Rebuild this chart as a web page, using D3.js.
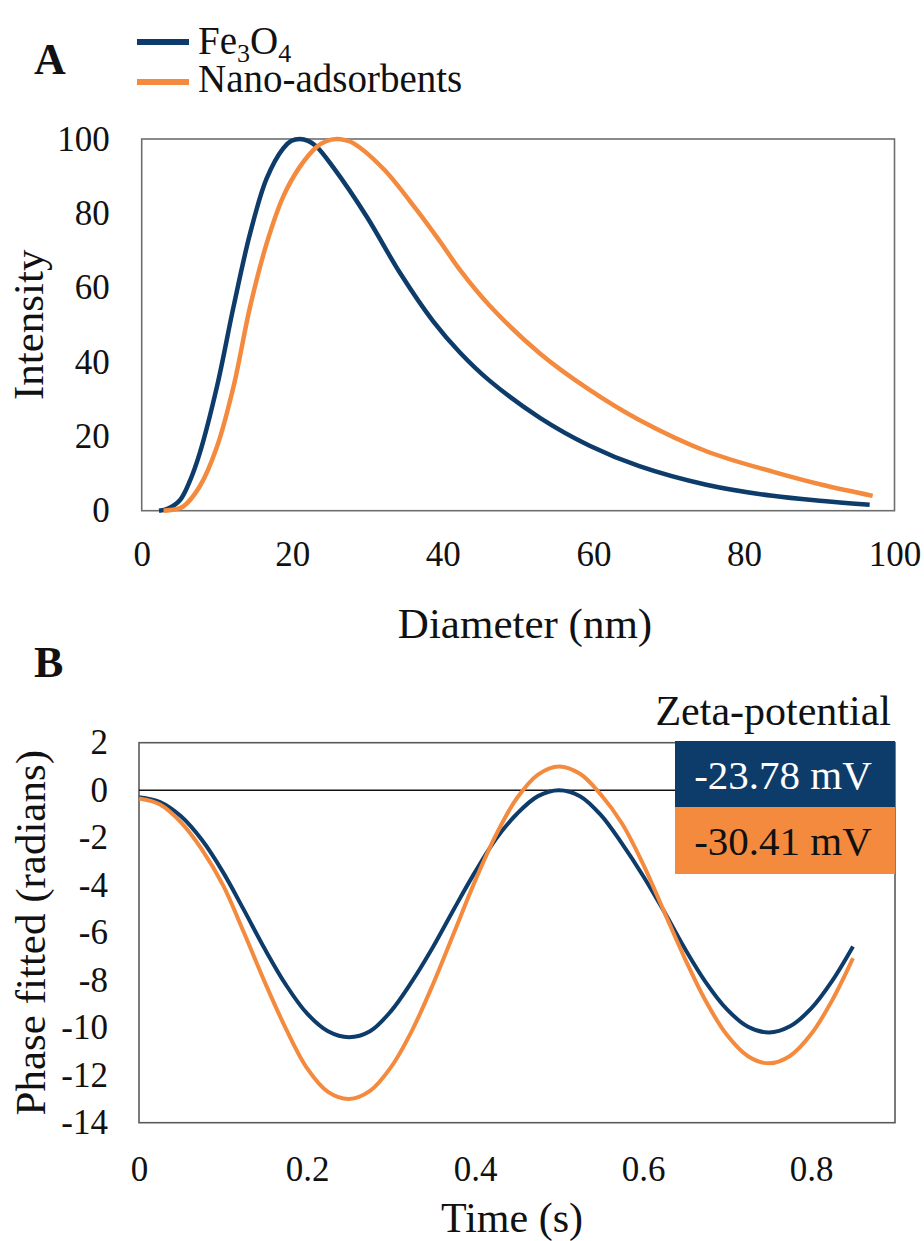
<!DOCTYPE html>
<html>
<head>
<meta charset="utf-8">
<script src="https://cdn.jsdelivr.net/npm/d3@7"></script>
<style>
  html, body { margin: 0; padding: 0; background: #fff; }
</style>
</head>
<body>
<svg id="chart" width="924" height="1241"></svg>
<script>
// ---------- Data ----------
// Panel A: particle size distribution
const seriesNames = ["Fe3O4", "Nano-adsorbents"];
const feDiameter = [2.3, 3.5, 5.1, 6.5, 7.7, 10.0, 12.2, 14.4, 16.6, 18.8, 19.9, 21.0, 22.1, 23.2, 25.4, 29.9, 34.3, 38.7, 42.3, 46.2, 52.9, 59.5, 66.1, 75.0, 83.8, 90.5, 96.7];
const feIntensity = [0, 0.6, 2.9, 8.5, 15.4, 33.4, 54.9, 74.6, 89.4, 97.5, 99.5, 100, 99.5, 98, 92.5, 79.1, 64, 51, 42.5, 35, 25, 17.5, 12, 7, 4, 2.6, 1.6];
const nanoDiameter = [2.9, 4.5, 5.5, 7.7, 10.0, 12.2, 14.4, 16.6, 18.8, 21.0, 23.2, 24.5, 25.9, 27.0, 28.1, 32.1, 36.5, 39.6, 42.3, 46.2, 52.9, 59.5, 66.1, 75.0, 83.8, 90.5, 97.1];
const nanoIntensity = [0, 0.4, 1.1, 6.5, 17.2, 33.4, 54.9, 71.9, 84.5, 92.5, 97.8, 99.4, 100, 99.7, 98.9, 92, 81, 72.5, 64.7, 55.2, 42.3, 32.5, 24.4, 16.0, 10.5, 6.9, 4.0];
const xTicksA = [0, 20, 40, 60, 80, 100];
const yTicksA = [0, 20, 40, 60, 80, 100];

// Panel B: phase fitted vs time
const timeB = [0, 0.025, 0.05, 0.075, 0.1, 0.125, 0.15, 0.175, 0.2, 0.225, 0.25, 0.275, 0.3, 0.325, 0.35, 0.375, 0.4, 0.425, 0.45, 0.475, 0.5, 0.525, 0.55, 0.575, 0.6, 0.625, 0.65, 0.675, 0.7, 0.725, 0.75, 0.775, 0.8, 0.825, 0.85];
const fePhase = [-0.3, -0.5, -1.1, -2.1, -3.45, -5.05, -6.7, -8.2, -9.4, -10.15, -10.4, -10.15, -9.3, -8.05, -6.6, -5.0, -3.45, -2.05, -0.99, -0.25, 0, -0.25, -1.05, -2.25, -3.6, -5.1, -6.68, -8.1, -9.23, -9.96, -10.2, -9.94, -9.2, -8.04, -6.58];
const nanoPhase = [-0.35, -0.6, -1.35, -2.5, -4.0, -6.0, -8.1, -10.05, -11.7, -12.7, -13.0, -12.66, -11.66, -10.12, -8.17, -6.0, -3.83, -1.88, -0.33, 0.66, 1.0, 0.69, -0.19, -1.4, -3.1, -5.1, -7.1, -8.9, -10.31, -11.2, -11.5, -11.19, -10.28, -8.86, -7.07];
const xTicksB = [0, 0.2, 0.4, 0.6, 0.8];
const yTicksB = [2, 0, -2, -4, -6, -8, -10, -12, -14];
const zetaLabels = ["-23.78 mV", "-30.41 mV"];

const BLUE = "#0d3c6b";
const ORANGE = "#f48a3d";
const FONT = "Liberation Serif";

const svg = d3.select("#chart");
function txt(sel, size, weight) {
  return sel.attr("font-family", FONT).style("font-family", FONT).style("font-size", size + "px")
    .style("font-weight", weight || "normal").style("fill", "#111");
}

// ---------- Panel A ----------
const xA = d3.scaleLinear().domain([0, 100]).range([141.7, 894.5]);
const yA = d3.scaleLinear().domain([0, 100]).range([510.7, 139]);

txt(svg.append("text").text("A").attr("x", 34).attr("y", 74), 44, "bold");

// legend
const legY = [42, 82];
const legBase = [54, 92];
[BLUE, ORANGE].forEach((c, i) => {
  svg.append("line").attr("x1", 137).attr("x2", 189).attr("y1", legY[i]).attr("y2", legY[i])
    .attr("stroke", c).attr("stroke-width", 6);
});
const fe = txt(svg.append("text").attr("x", 198).attr("y", legBase[0]), 39);
fe.append("tspan").text("Fe");
fe.append("tspan").text("3").style("font-size", "26px").attr("dy", 8);
fe.append("tspan").text("O").attr("dy", -8);
fe.append("tspan").text("4").style("font-size", "26px").attr("dy", 8);
txt(svg.append("text").attr("x", 198).attr("y", legBase[1]).text(seriesNames[1]), 39);

const gA = svg.append("g");
gA.append("rect").attr("x", xA(0)).attr("y", yA(100))
  .attr("width", xA(100) - xA(0)).attr("height", yA(0) - yA(100))
  .attr("fill", "none").attr("stroke", "#6e6e6e").attr("stroke-width", 1.6);

const axA = gA.append("g").attr("transform", `translate(0,${yA(0)})`)
  .call(d3.axisBottom(xA).tickValues(xTicksA).tickSize(0).tickPadding(30));
axA.attr("font-family", FONT);
axA.select(".domain").remove();
txt(axA.selectAll("text"), 35);

const ayA = gA.append("g").attr("transform", `translate(${xA(0)},0)`)
  .call(d3.axisLeft(yA).tickValues(yTicksA).tickSize(0).tickPadding(32));
ayA.attr("font-family", FONT);
ayA.select(".domain").remove();
txt(ayA.selectAll("text"), 35);

const lineA = d3.line().x(d => xA(d[0])).y(d => yA(Math.max(0, d[1]))).curve(d3.curveCatmullRom.alpha(0.5));
gA.append("path").datum(feDiameter.map((d, i) => [d, feIntensity[i]]))
  .attr("d", lineA).attr("fill", "none").attr("stroke", BLUE).attr("stroke-width", 4.5);
gA.append("path").datum(nanoDiameter.map((d, i) => [d, nanoIntensity[i]]))
  .attr("d", lineA).attr("fill", "none").attr("stroke", ORANGE).attr("stroke-width", 4.5);

txt(svg.append("text").text("Intensity").attr("text-anchor", "middle")
  .attr("transform", `translate(43,${(yA(0) + yA(100)) / 2}) rotate(-90)`), 43);
txt(svg.append("text").text("Diameter (nm)").attr("text-anchor", "middle")
  .attr("x", 525).attr("y", 638), 43);

// ---------- Panel B ----------
const xB = d3.scaleLinear().domain([0, 0.9]).range([139, 895]);
const yB = d3.scaleLinear().domain([-14, 2]).range([1122.7, 742.7]);

txt(svg.append("text").text("B").attr("x", 34).attr("y", 677), 44, "bold");

const gB = svg.append("g");
gB.append("rect").attr("x", xB(0)).attr("y", yB(2))
  .attr("width", xB(0.9) - xB(0)).attr("height", yB(-14) - yB(2))
  .attr("fill", "none").attr("stroke", "#5a5a5a").attr("stroke-width", 1.6);
gB.append("line").attr("x1", xB(0)).attr("x2", xB(0.9)).attr("y1", yB(0)).attr("y2", yB(0))
  .attr("stroke", "#111").attr("stroke-width", 1.6);

const axB = gB.append("g").attr("transform", `translate(0,${yB(-14)})`)
  .call(d3.axisBottom(xB).tickValues(xTicksB).tickSize(0).tickPadding(33).tickFormat(d3.format("")));
axB.attr("font-family", FONT);
axB.select(".domain").remove();
txt(axB.selectAll("text"), 35);

const ayB = gB.append("g").attr("transform", `translate(${xB(0)},0)`)
  .call(d3.axisLeft(yB).tickValues(yTicksB).tickSize(0).tickPadding(31).tickFormat(d => String(d)));
ayB.attr("font-family", FONT);
ayB.select(".domain").remove();
txt(ayB.selectAll("text"), 35);

const lineB = d3.line().x(d => xB(d[0])).y(d => yB(d[1])).curve(d3.curveCatmullRom.alpha(0.5));
gB.append("path").datum(timeB.map((t, i) => [t, fePhase[i]]))
  .attr("d", lineB).attr("fill", "none").attr("stroke", BLUE).attr("stroke-width", 4);
gB.append("path").datum(timeB.map((t, i) => [t, nanoPhase[i]]))
  .attr("d", lineB).attr("fill", "none").attr("stroke", ORANGE).attr("stroke-width", 4);

// Zeta-potential boxes
txt(svg.append("text").text("Zeta-potential").attr("text-anchor", "end")
  .attr("x", 891).attr("y", 725), 42);
const boxTop = [741, 807];
[BLUE, ORANGE].forEach((c, i) => {
  svg.append("rect").attr("x", 675).attr("y", boxTop[i]).attr("width", 220).attr("height", i === 0 ? 66 : 67)
    .attr("fill", c);
  txt(svg.append("text").text(zetaLabels[i]).attr("text-anchor", "middle")
    .attr("x", 783).attr("y", boxTop[i] + 48), 41)
    .style("fill", i === 0 ? "#fff" : "#111");
});

txt(svg.append("text").text("Phase fitted (radians)").attr("text-anchor", "middle")
  .attr("transform", `translate(45,${(yB(-14) + yB(2)) / 2}) rotate(-90)`), 43);
txt(svg.append("text").text("Time (s)").attr("text-anchor", "middle")
  .attr("x", 512).attr("y", 1232), 42);
</script>
</body>
</html>
